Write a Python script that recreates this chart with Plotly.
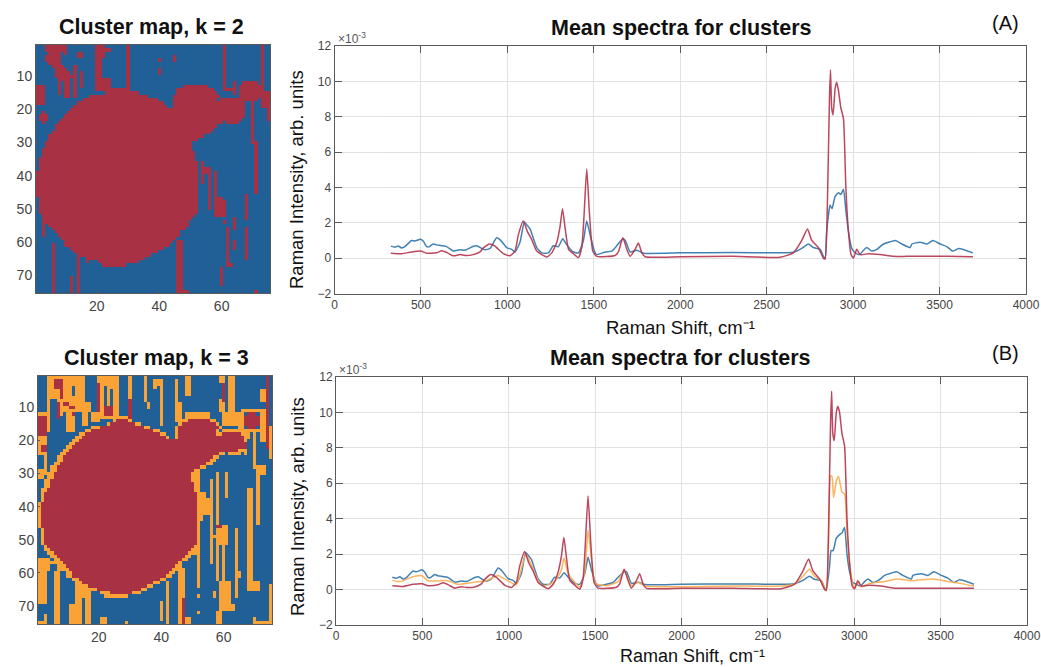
import plotly.graph_objects as go

W, H = 1041, 667
C_BLUE, C_RED, C_ORANGE = "#206096", "#a83244", "#f9a235"
L_BLUE, L_RED, L_ORANGE = "#2f74ab", "#b5344e", "#fbae4f"

TITLE_MAP_A = "Cluster map, k = 2"
TITLE_MAP_B = "Cluster map, k = 3"
TITLE_SPEC = "Mean spectra for clusters"
X_LABEL = "Raman Shift, cm\u207b\u00b9"
Y_LABEL = "Raman Intensity, arb. units"
MAP_TICKS_X = [20, 40, 60]
MAP_TICKS_Y = [10, 20, 30, 40, 50, 60, 70]
SPEC_X_TICKS = [0, 500, 1000, 1500, 2000, 2500, 3000, 3500, 4000]
SPEC_Y_TICKS = [-2, 0, 2, 4, 6, 8, 10, 12]

# ---- cluster maps: spans, row by row from row 14
BLOB2_L = [25,23,18,16,14,13,12,11,10,9,8,7,7,6,5,5,4,4,3,3,3,2,2,2,2,1,1,1,1,1,1,1,1,2,2,2,2,2,3,3,4,5,6,7,8,9,10,10,12,13,14,17,21,22]
BLOB2_R = [30,33,36,39,41,42,67,67,67,66,60,58,57,56,54,52,50,50,50,51,51,51]+[52]*16+[51,50,49,49,48,46,46,45,44,43,41,39,37,35,33,29]
BLOB2_EXTRA = [(13,48,55),(14,46,57),(15,46,58),(16,45,59),(17,45,58),(17,60,66),(18,45,67),(19,45,67),(24,62,65)]
# (col0, col1, row0, row1)
STRANDS2 = [(4,9,1,2),(10,10,1,3),(5,8,3,3),(4,8,4,5),(5,8,6,6),(6,9,7,7),(7,10,8,8),(7,11,9,9),(7,12,10,10),
 (8,11,11,11),(8,8,12,15),(10,11,12,16),(14,15,3,4),(13,13,7,16),(15,15,9,13),(20,21,1,12),(20,24,11,14),(22,22,1,4),(23,24,2,2),
 (30,30,1,14),(40,40,5,5),(40,40,8,9),(45,45,4,5),(61,61,1,14),(62,63,14,14),(64,64,12,15),(66,73,13,16),(67,71,12,12),(67,71,17,17),
 (73,73,1,16),(73,75,15,19),(75,75,20,23),(70,70,17,30),(71,71,30,45),(1,3,13,18),(2,4,22,23),(3,3,21,24),
 (54,54,36,42),(55,56,38,39),(56,56,38,50),(58,58,39,52),(59,60,47,52),(61,61,48,52),(61,61,54,54),(62,62,56,67),(63,63,67,67),
 (60,60,68,73),(64,64,53,56),(64,64,60,62),(68,68,46,53),(68,68,56,65),(3,3,54,58),(6,6,61,75),(12,12,71,75),(14,14,65,75),
 (17,17,66,66),(46,47,60,75),(48,49,75,75),(71,71,75,75)]

BLOB3_L = [26,24,21,18,16,15,14,13,12,11,10,9,9,8,7,7,6,6,5,5,5,4,3,3,3,2,2,2,2,2,2,2,2,3,3,3,3,3,4,5,6,7,8,9,10,11,12,12,14,15,17,20,24]
BLOB3_R = [29,31,34,37,39,41,66,67,67,64,58,56,55,54,52,50,49,49,49,50,50,50]+[51]*16+[50,49,48,47,46,45,44,43,42,41,39,37,35,33,30]
BLOB3_EXTRA = [(14,49,55),(15,47,57),(16,46,58),(17,46,57),(18,46,57),(18,60,65),(19,46,66)]
ORANGE3 = [(4,15,1,8),(8,15,8,12),(10,12,13,17),(15,16,12,15),(18,20,12,14),(16,17,9,11),(4,4,1,17),(1,3,12,12),
 (3,3,19,24),(1,3,19,20),(1,3,21,24),(3,3,25,30),(1,2,29,31),
 (20,25,1,12),(25,26,1,13),(20,24,13,13),(26,30,13,13),(48,55,12,13),(30,30,1,7),
 (35,35,1,8),(36,36,9,10),(38,38,2,4),(39,39,2,3),(40,40,2,15),(45,45,2,14),(46,46,9,14),(48,49,1,6),
 (59,60,1,2),(59,60,8,11),(60,60,12,15),(62,63,1,14),(60,64,12,15),(65,66,13,17),(66,72,11,11),(66,72,17,17),(65,66,12,16),
 (72,73,5,8),(72,73,11,20),(75,75,16,25),(67,67,18,24),(68,68,18,19),(70,70,18,28),(71,73,28,30),(71,71,31,45),
 (49,51,29,33),(51,52,30,35),(52,54,36,38),(52,55,38,42),(52,53,42,44),(51,52,44,53),(49,51,52,54),
 (56,56,32,57),(57,57,49,49),(58,58,30,45),(58,61,46,51),(58,58,51,62),(60,60,51,62),(59,62,63,71),(61,63,70,71),(58,59,72,75),(61,61,30,37),
 (64,64,47,67),(65,65,60,61),(57,57,66,67),(52,52,54,64),(52,52,67,67),(52,52,72,72),(68,69,35,65),(69,71,63,65),(75,75,64,75),(70,74,75,75),(70,70,74,74),
 (42,42,63,75),(46,47,59,75),(47,49,74,75),(40,40,69,74),
 (1,3,56,75),(3,4,56,59),(4,7,57,59),(6,7,60,75),(6,8,59,59),(11,12,70,75),(13,17,63,67),(13,14,67,75),(16,17,65,75),
 (22,22,67,67),(28,28,67,67),(21,22,74,75),(29,29,75,75)]
BLUE_CUTS3 = [(12,12,4,6),(22,22,4,9),(24,24,5,11),(5,6,8,13),(9,9,12,15),(13,14,12,16),(4,5,60,66),(5,6,58,59),(1,2,70,74),(3,5,70,72),(5,5,73,75)]
RED3 = [(6,8,2,4),(8,8,4,7),(7,7,9,13),(9,10,9,9),(11,12,10,10),(12,12,12,12),(20,20,3,11),(22,24,10,12),(30,30,8,13),(60,60,3,8),(74,74,1,22),
 (58,59,46,46),(47,47,68,75),(1,3,13,18),(2,3,22,23),(68,70,12,12),(67,71,13,15),(68,70,16,16)]

# ---- spectra, intensity in units of 1e-3
LOW_BLUE_X = [326,349,369,388,407,446,465,498,514,533,548,571,590,648,687,726,755,803,822,870,900,938,957,996,1025,1044,1073,1098,1115,1131,1170,1199,1237,1266,1295,1320,1344,1382,1411,1440,1459,1479,1502,1517,1566,1604,1633,1668,1682,1710,1749,1788,2000,2300,2577,2654,2703,2741,2770,2809,2828,2838]
LOW_BLUE_A = [.68,.62,.68,.58,.65,1.0,.97,1.07,.95,.65,.65,.8,.75,.65,.4,.47,.45,.67,.7,.47,.55,1.15,1.05,.6,.5,.35,.9,2.05,1.85,1.65,.6,.3,.3,.7,.65,1.1,.75,.35,.3,1.0,2.1,1.3,.45,.2,.35,.4,.7,1.1,1.0,.35,.45,.28,.3,.32,.3,.33,.55,.8,.6,.5,.1,0]
LOW_BLUE_B = [.7,.64,.72,.6,.68,1.05,1.0,1.12,.98,.68,.68,.85,.78,.68,.42,.48,.45,.68,.72,.47,.6,1.22,1.1,.62,.52,.35,.9,2.1,1.9,1.7,.6,.3,.3,.7,.65,.95,.7,.35,.3,.9,1.82,1.1,.4,.2,.3,.4,.7,1.0,1.0,.35,.42,.28,.3,.32,.3,.33,.52,.75,.58,.5,.1,0]

HIGH_BLUE_X = [2847,2857,2866,2878,2896,2915,2929,2944,2958,2973,2992,3012,3037,3060,3079,3108,3137,3176,3205,3244,3282,3330,3340,3388,3427,3461,3504,3542,3577,3610,3693]
HIGH_BLUE_A = [1.5,2.4,3.0,2.8,3.5,3.7,3.6,3.9,2.7,1.5,.55,.3,.2,.45,.6,.4,.5,.8,.9,1.0,.8,.6,.8,.9,.8,1.0,.8,.65,.4,.55,.3]
HIGH_BLUE_B = [.5,1.3,2.2,2.2,2.9,3.1,3.2,3.5,2.0,1.0,.4,.3,.2,.45,.6,.4,.5,.8,.9,1.0,.8,.6,.8,.9,.8,1.0,.8,.65,.4,.55,.3]

RED_X = [326,388,446,498,533,590,620,648,687,726,755,803,842,858,896,925,977,1015,1044,1063,1092,1116,1141,1170,1228,1257,1286,1305,1319,1334,1354,1382,1411,1430,1444,1459,1475,1494,1517,1623,1642,1668,1691,1710,1739,1758,1778,1797,2000,2300,2577,2654,2703,2736,2761,2799,2828,2838,2851,2863,2869,2876,2884,2896,2905,2915,2929,2944,2958,2973,2988,3002,3021,3041,3089,3156,3233,3311,3542,3693]
RED_A = [.28,.25,.35,.4,.28,.3,.42,.33,.13,.2,.15,.2,.35,.55,.8,.7,.25,.13,.4,1.3,2.1,1.5,1.05,.4,.07,.3,.9,1.8,2.8,1.7,.5,.25,.03,.6,2.5,5.05,2.5,.4,.1,.15,.35,1.15,.5,.1,.5,.85,.3,.08,.08,.1,.05,.3,1.0,1.65,1.0,.6,0,-.05,3.0,9.0,10.65,8.5,8.1,9.6,9.95,9.5,8.5,7.9,4.0,1.5,.2,0,.5,.2,.25,.2,.1,.1,.1,.08]
RED_B = [.22,.18,.3,.33,.22,.27,.38,.28,.08,.16,.12,.15,.32,.55,.85,.72,.25,.12,.4,1.3,2.15,1.5,1.05,.4,.05,.3,1.0,1.9,2.95,1.8,.5,.25,.02,.6,2.7,5.3,2.6,.4,.08,.13,.32,1.15,.5,.08,.5,.9,.3,.07,.07,.08,.05,.3,1.05,1.72,1.05,.6,.02,-.05,3.3,9.5,11.2,8.8,8.4,10.0,10.35,10.0,8.8,8.1,4.0,1.5,.2,.05,.5,.2,.25,.2,.08,.08,.08,.07]

ORANGE_X = [326,369,446,498,533,648,700,803,870,938,977,1044,1098,1131,1170,1199,1266,1305,1320,1344,1411,1440,1459,1479,1502,1566,1633,1668,1710,1749,1788,2300,2577,2654,2703,2741,2770,2809,2838,2851,2863,2871,2880,2896,2909,2929,2944,2958,2973,2992,3002,3021,3041,3089,3176,3244,3330,3461,3542,3610,3693]
ORANGE_B = [.52,.45,.72,.78,.5,.5,.3,.42,.5,.8,.6,.28,2.0,1.4,.5,.2,.45,1.1,1.8,.9,.15,1.0,3.35,1.7,.35,.22,.45,1.1,.2,.42,.2,.2,.2,.3,.75,1.15,.75,.5,-.03,2.5,6.4,6.4,5.2,6.1,6.4,5.5,5.4,3.2,1.5,.3,.05,.45,.15,.35,.45,.6,.5,.6,.45,.35,.2]

def paint(blob_l, blob_r, first_row, extra, grid, val):
    for i, (a, b) in enumerate(zip(blob_l, blob_r)):
        for c in range(a, b + 1):
            grid[first_row + i - 1][c - 1] = val
    for r, a, b in extra:
        for c in range(a, b + 1):
            grid[r - 1][c - 1] = val

def rects(items, grid, val):
    for c0, c1, r0, r1 in items:
        for r in range(r0, r1 + 1):
            for c in range(c0, c1 + 1):
                grid[r - 1][c - 1] = val

MAP_A = [[1] * 75 for _ in range(75)]
paint(BLOB2_L, BLOB2_R, 14, BLOB2_EXTRA, MAP_A, 3)
rects(STRANDS2, MAP_A, 3)

MAP_B = [[1] * 75 for _ in range(75)]
rects(ORANGE3, MAP_B, 2)
rects(BLUE_CUTS3, MAP_B, 1)
paint(BLOB2_L, BLOB2_R, 14, BLOB2_EXTRA, MAP_B, 2)
paint(BLOB3_L, BLOB3_R, 14, BLOB3_EXTRA, MAP_B, 3)
rects(RED3, MAP_B, 3)

fig = go.Figure()
SCALE = [[0, C_BLUE], [0.33, C_BLUE], [0.33, C_ORANGE], [0.67, C_ORANGE], [0.67, C_RED], [1, C_RED]]
CELLS = list(range(1, 76))

def dom(p0, p1, size):
    return [p0 / size, p1 / size]

def ydom(top, bottom):
    return [1 - bottom / H, 1 - top / H]

MAPFONT = dict(family="Liberation Sans", size=14, color="#444444")
SPECFONT = dict(family="Liberation Sans", size=12, color="#444444")
FRAME = "#5a5a5a"

def add_map(z, n, box):
    x0, x1, y0, y1 = box
    fig.add_trace(go.Heatmap(z=z, x=CELLS, y=CELLS, colorscale=SCALE, zmin=1, zmax=3, showscale=False,
                             xaxis=f"x{n}", yaxis=f"y{n}"))
    fig.layout[f"xaxis{n}"] = dict(domain=dom(x0, x1, W), anchor=f"y{n}", range=[0.5, 75.5], tickvals=MAP_TICKS_X,
        ticks="inside", ticklen=2, tickcolor=FRAME, tickfont=MAPFONT, showgrid=False, zeroline=False, automargin=False,
        showline=True, mirror=True, linecolor=FRAME, linewidth=1)
    fig.layout[f"yaxis{n}"] = dict(domain=ydom(y0, y1), anchor=f"x{n}", range=[75.5, 0.5], tickvals=MAP_TICKS_Y,
        ticks="inside", ticklen=2, tickcolor=FRAME, tickfont=MAPFONT, showgrid=False, zeroline=False, automargin=False,
        showline=True, mirror=True, linecolor=FRAME, linewidth=1)

def add_spec(n, box, series):
    x0, x1, y0, y1 = box
    for xs, ys, col in series:
        fig.add_trace(go.Scatter(x=xs, y=ys, mode="lines", line=dict(color=col, width=1.5, shape="spline", smoothing=0.5),
                                 opacity=0.9, xaxis=f"x{n}", yaxis=f"y{n}", showlegend=False))
    fig.layout[f"xaxis{n}"] = dict(domain=dom(x0, x1, W), anchor=f"y{n}", range=[0, 4000], tickvals=SPEC_X_TICKS,
        ticks="inside", ticklen=7, tickcolor=FRAME, tickfont=SPECFONT, showgrid=True, gridcolor="#e2e2e2", gridwidth=1,
        zeroline=False, showline=True, mirror="ticks", linecolor=FRAME, linewidth=1, automargin=False)
    fig.layout[f"yaxis{n}"] = dict(domain=ydom(y0, y1), anchor=f"x{n}", range=[-2, 12], tickvals=SPEC_Y_TICKS,
        ticks="inside", ticklen=7, tickcolor=FRAME, tickfont=SPECFONT, showgrid=True, gridcolor="#e2e2e2", gridwidth=1,
        zeroline=False, showline=True, mirror="ticks", linecolor=FRAME, linewidth=1, automargin=False)

add_map(MAP_A, 1, (36, 270, 45, 293))
add_map(MAP_B, 2, (38, 272, 376, 624))
add_spec(3, (334.5, 1026, 46, 293.5), [
    (LOW_BLUE_X + HIGH_BLUE_X, LOW_BLUE_A + HIGH_BLUE_A, L_BLUE),
    (RED_X, RED_A, L_RED)])
add_spec(4, (336, 1027, 377, 625), [
    (LOW_BLUE_X + HIGH_BLUE_X, LOW_BLUE_B + HIGH_BLUE_B, L_BLUE),
    (ORANGE_X, ORANGE_B, L_ORANGE),
    (RED_X, RED_B, L_RED)])

def label(text, x, y, size, bold=False, angle=0, color="#111111"):
    fig.add_annotation(text=f"<b>{text}</b>" if bold else text, x=x / W, y=1 - y / H, xref="paper", yref="paper",
                       showarrow=False, textangle=angle, xanchor="center", yanchor="middle",
                       font=dict(family="Liberation Sans", size=size, color=color))

label(TITLE_MAP_A, 151, 27, 21.5, True)
label(TITLE_MAP_B, 156, 358, 21.5, True)
label(TITLE_SPEC, 681, 28, 21.5, True)
label(TITLE_SPEC, 680, 358, 21.5, True)
label(X_LABEL, 680, 327, 18.5)
label(X_LABEL, 692, 655.5, 18)
label(Y_LABEL, 297, 180, 18.5, angle=-90)
label(Y_LABEL, 298, 507, 18.5, angle=-90)
label("(A)", 1005, 23, 20)
label("(B)", 1005, 353, 20)
label("\u00d710<sup>-3</sup>", 352, 38, 12, color="#555555")
label("\u00d710<sup>-3</sup>", 353, 369, 12, color="#555555")

fig.update_layout(width=W, height=H, autosize=False, margin=dict(l=0, r=0, t=0, b=0), showlegend=False,
                  paper_bgcolor="white", plot_bgcolor="white")
fig.write_html("out.html", config={"displayModeBar": False}, post_script="document.body.style.margin='0';")
